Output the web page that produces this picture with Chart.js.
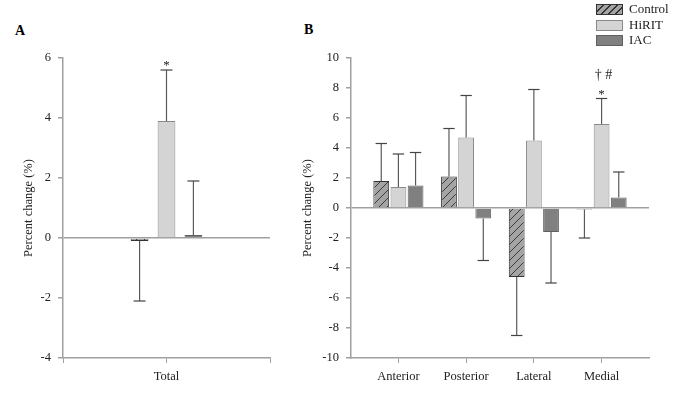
<!DOCTYPE html>
<html>
<head>
<meta charset="utf-8">
<script src="https://cdn.jsdelivr.net/npm/chart.js@4"></script>
<style>
  body { margin: 0; background: #fff; }
  #wrap { position: relative; width: 685px; height: 396px; font-family: "Liberation Serif", "Times New Roman", serif; }
  #wrap canvas { position: absolute; top: 0; }
  .panel { position: absolute; font-weight: bold; font-size: 14px; }
  #legend { position: absolute; left: 596px; top: 3px; font-size: 13px; color: #222; }
  #legend div { height: 15.5px; line-height: 12px; display: flex; align-items: flex-start; }
  #legend span.sw { width: 27px; height: 11px; margin-right: 6px; margin-top: 1px; box-sizing: border-box; }
</style>
</head>
<body>
<div id="wrap">
  <div class="panel" style="left:15px;top:23px">A</div>
  <div class="panel" style="left:304px;top:22px">B</div>
  <canvas id="chartA" width="290" height="396" style="left:0"></canvas>
  <canvas id="chartB" width="395" height="396" style="left:290px"></canvas>
  <div id="legend">
    <div><span class="sw" style="background:repeating-linear-gradient(-45deg,#a4a4a4 0 4px,#333 4px 5px);border:1px solid #333"></span>Control</div>
    <div><span class="sw" style="background:#d4d4d4;border:1px solid #888"></span>HiRIT</div>
    <div><span class="sw" style="background:#808080;border:1px solid #606060"></span>IAC</div>
  </div>
</div>
<script>
// panel A (total)
const categoriesA = ['Total'];
const controlA = [-0.1];
const hiritA = [3.9];
const iacA = [0.1];
const controlErrA = [-2.1];
const hiritErrA = [5.6];
const iacErrA = [1.9];
const hiritMarksA = [['*']];

// panel B (regions)
const categoriesB = ['Anterior', 'Posterior', 'Lateral', 'Medial'];
const controlB = [1.8, 2.1, -4.6, -0.1];
const hiritB = [1.4, 4.7, 4.5, 5.6];
const iacB = [1.5, -0.7, -1.6, 0.7];
const controlErrB = [4.3, 5.3, -8.5, -2.0];
const hiritErrB = [3.6, 7.5, 7.9, 7.3];
const iacErrB = [3.7, -3.5, -5.0, 2.4];
const hiritMarksB = [[], [], [], ['*', '\u2020 #']];

const FONT = "'Liberation Serif', 'Times New Roman', serif";

function hatch() {
  const c = document.createElement('canvas');
  c.width = 8; c.height = 8;
  const g = c.getContext('2d');
  g.fillStyle = '#a4a4a4';
  g.fillRect(0, 0, 8, 8);
  g.strokeStyle = '#222';
  g.lineWidth = 0.8;
  g.beginPath();
  g.moveTo(0, 8); g.lineTo(8, 0);
  g.moveTo(-2, 2); g.lineTo(2, -2);
  g.moveTo(6, 10); g.lineTo(10, 6);
  g.stroke();
  return g.createPattern(c, 'repeat');
}

const errorBars = {
  id: 'errorBars',
  afterDatasetsDraw(chart) {
    const ctx = chart.ctx;
    const y = chart.scales.y;
    chart.data.datasets.forEach((ds, di) => {
      const meta = chart.getDatasetMeta(di);
      meta.data.forEach((bar, i) => {
        const ey = y.getPixelForValue(ds.err[i]);
        const half = Math.min(bar.width * 0.36, 6);
        ctx.save();
        ctx.strokeStyle = '#5a5a5a';
        ctx.lineWidth = 1.2;
        ctx.beginPath();
        ctx.moveTo(bar.x, bar.y);
        ctx.lineTo(bar.x, ey);
        ctx.stroke();
        ctx.strokeStyle = '#444';
        ctx.beginPath();
        ctx.moveTo(bar.x - half, ey);
        ctx.lineTo(bar.x + half, ey);
        ctx.stroke();
        // significance marks above the error cap
        const marks = ds.marks ? ds.marks[i] : null;
        if (marks) {
          ctx.fillStyle = '#222';
          ctx.textAlign = 'center';
          ctx.textBaseline = 'alphabetic';
          marks.forEach((m, k) => {
            ctx.font = (m === '*' ? '13px ' : '14px ') + FONT;
            ctx.fillText(m, bar.x + (m === '*' ? 0 : 2), ey - 1 - k * 19);
          });
        }
        ctx.restore();
      });
    });
  }
};

function makeChart(id, cats, control, hirit, iac, errs, marks, yMin, yMax, xMin, xMax, axisW, titlePad, padRight, catPct, barPct) {
  const pts = arr => arr.map((v, i) => ({ x: i + 1, y: v }));
  return new Chart(document.getElementById(id), {
    type: 'bar',
    data: {
      datasets: [
        { label: 'Control', data: pts(control), err: errs[0], backgroundColor: hatch(), borderColor: '#333', borderWidth: 1 },
        { label: 'HiRIT', data: pts(hirit), err: errs[1], marks: marks, backgroundColor: '#d4d4d4', borderColor: '#8a8a8a', borderWidth: 1 },
        { label: 'IAC', data: pts(iac), err: errs[2], backgroundColor: '#808080', borderColor: '#606060', borderWidth: 1 }
      ]
    },
    options: {
      responsive: false,
      animation: false,
      categoryPercentage: catPct,
      barPercentage: barPct,
      layout: { padding: { top: 58, right: padRight, left: 0, bottom: 0 } },
      plugins: { legend: { display: false }, tooltip: { enabled: false } },
      scales: {
        x: {
          type: 'linear',
          min: xMin, max: xMax,
          offset: false,
          border: { color: '#a0a0a0', width: 1.5 },
          grid: { offset: false, drawOnChartArea: false, tickLength: 5, tickColor: '#a0a0a0' },
          ticks: {
            stepSize: 1, includeBounds: false, padding: 6,
            color: '#222', font: { family: FONT, size: 12.5 },
            callback: v => cats[v - 1] || ''
          },
          afterFit: s => { s.height = 38; }
        },
        y: {
          min: yMin, max: yMax,
          border: { color: '#a0a0a0', width: 1.5 },
          grid: {
            drawOnChartArea: true, tickLength: 5, tickColor: '#a0a0a0',
            color: c => c.tick && c.tick.value === 0 ? '#a0a0a0' : 'rgba(0,0,0,0)',
            lineWidth: 1.5
          },
          ticks: { stepSize: 2, padding: 7, color: '#222', font: { family: FONT, size: 12.5 } },
          title: { display: true, text: 'Percent change (%)', color: '#222', padding: { top: titlePad, bottom: 0 }, font: { family: FONT, size: 12.5 } },
          afterFit: s => { s.width = axisW; }
        }
      }
    },
    plugins: [errorBars]
  });
}

function draw() {
  makeChart('chartA', categoriesA, controlA, hiritA, iacA, [controlErrA, hiritErrA, iacErrA], hiritMarksA,
    -4, 6, 0, 2, 63, 21, 20, 0.78, 0.66);
  makeChart('chartB', categoriesB, controlB, hiritB, iacB, [controlErrB, hiritErrB, iacErrB], hiritMarksB,
    -10, 10, 0.3, 4.7, 61, 10, 36, 0.76, 0.92);
}

document.fonts.load("12px 'Liberation Serif'").then(draw, draw);
</script>
</body>
</html>
